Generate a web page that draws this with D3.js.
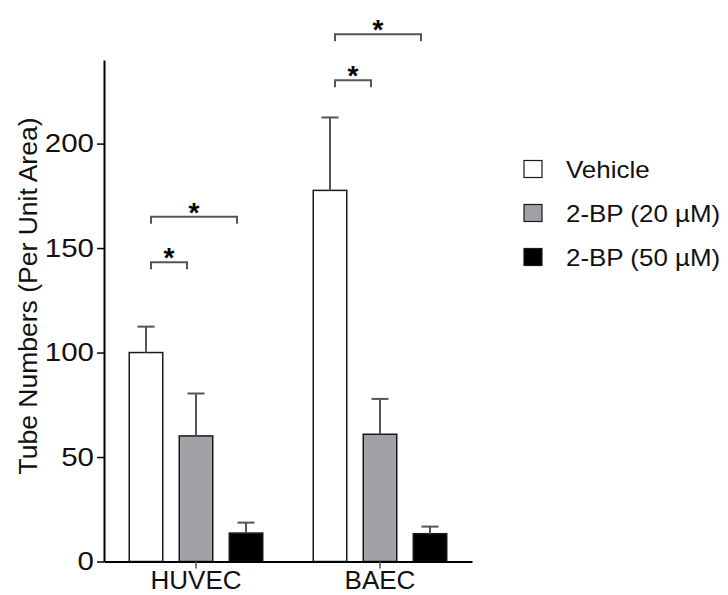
<!DOCTYPE html>
<html>
<head>
<meta charset="utf-8">
<script src="https://cdn.jsdelivr.net/npm/d3@7"></script>
<style>
  html, body { margin: 0; padding: 0; background: #fff; }
  svg { display: block; font-family: "Liberation Sans", Arial, sans-serif; }
</style>
</head>
<body>
<svg id="chart" width="728" height="595"></svg>
<script>
// ---- data ----
const categories = ["HUVEC", "BAEC"];
const seriesNames = ["Vehicle", "2-BP (20 µM)", "2-BP (50 µM)"];
const vehicleMean = [100, 177.6];
const bp20Mean = [60.1, 60.9];
const bp50Mean = [13.6, 13.3];
const vehicleErr = [12.4, 34.9];
const bp20Err = [20.3, 16.9];
const bp50Err = [5.0, 3.4];
const yTicks = [0, 50, 100, 150, 200];
// significance brackets
const sigGroup = ["HUVEC", "HUVEC", "BAEC", "BAEC"];
const sigFrom = ["Vehicle", "Vehicle", "Vehicle", "Vehicle"];
const sigTo = ["2-BP (20 µM)", "2-BP (50 µM)", "2-BP (20 µM)", "2-BP (50 µM)"];
const sigLevel = [143.2, 165, 230.3, 252.3];
const sigLabel = ["*", "*", "*", "*"];

// ---- styles ----
const seriesFill = ["#ffffff", "#a1a1a5", "#000000"];
const barStroke = "#1a1a1a";
const errColor = "#555555";

function stretch(sel, factor) {
  sel.each(function () {
    const w = this.getComputedTextLength();
    d3.select(this).attr("textLength", w * factor).attr("lengthAdjust", "spacingAndGlyphs");
  });
}

const means = [vehicleMean, bp20Mean, bp50Mean];
const errs = [vehicleErr, bp20Err, bp50Err];
const rows = [];
categories.forEach((c, ci) => {
  seriesNames.forEach((s, si) => {
    rows.push({ cat: c, series: s, si, mean: means[si][ci], err: errs[si][ci] });
  });
});

const svg = d3.select("#chart");

const y = d3.scaleLinear().domain([0, 240]).range([561.5, 60]);
const x0 = d3.scaleBand().domain(categories).range([104, 472]).padding(0);
const x1 = d3.scaleBand().domain(seriesNames).range([17, 167])
  .paddingInner(0.33).paddingOuter(0.165);

// bars
const g = svg.append("g");
g.selectAll("rect.bar").data(rows).join("rect")
  .attr("class", "bar")
  .attr("x", d => x0(d.cat) + x1(d.series))
  .attr("y", d => y(d.mean))
  .attr("width", x1.bandwidth())
  .attr("height", d => y(0) - y(d.mean))
  .attr("fill", d => seriesFill[d.si])
  .attr("stroke", barStroke)
  .attr("stroke-width", 1.5);

// error bars (upper only)
const capW = 17;
const eb = g.selectAll("g.err").data(rows).join("g").attr("class", "err");
eb.append("line")
  .attr("x1", d => x0(d.cat) + x1(d.series) + x1.bandwidth() / 2)
  .attr("x2", d => x0(d.cat) + x1(d.series) + x1.bandwidth() / 2)
  .attr("y1", d => y(d.mean))
  .attr("y2", d => y(d.mean + d.err))
  .attr("stroke", errColor).attr("stroke-width", 2);
eb.append("line")
  .attr("x1", d => x0(d.cat) + x1(d.series) + x1.bandwidth() / 2 - capW / 2)
  .attr("x2", d => x0(d.cat) + x1(d.series) + x1.bandwidth() / 2 + capW / 2)
  .attr("y1", d => y(d.mean + d.err))
  .attr("y2", d => y(d.mean + d.err))
  .attr("stroke", errColor).attr("stroke-width", 2);

// axes
const yAxis = d3.axisLeft(y).tickValues(yTicks).tickSize(7).tickSizeOuter(0).tickPadding(3);
const ya = svg.append("g").attr("transform", "translate(104,0)").call(yAxis);
const xAxis = d3.axisBottom(x0).tickSize(7).tickSizeOuter(0).tickPadding(2);
const xa = svg.append("g").attr("transform", `translate(0,${y(0)})`).call(xAxis);
[ya, xa].forEach(a => {
  a.select(".domain").attr("stroke", "#000").attr("stroke-width", 2);
  a.selectAll(".tick line").attr("stroke", "#000").attr("stroke-width", 1.5);
  a.selectAll(".tick text").attr("fill", "#111")
    .style("font-family", '"Liberation Sans", Arial, sans-serif');
});
ya.selectAll(".tick text").style("font-size", "25px");
xa.selectAll(".tick text").style("font-size", "26px");
xa.selectAll(".tick line").attr("stroke", errColor);
stretch(ya.selectAll(".tick text"), 1.18);

// y axis title
const title = svg.append("text")
  .attr("transform", "translate(37,296) rotate(-90)")
  .attr("text-anchor", "middle")
  .attr("fill", "#111")
  .style("font-size", "25px")
  .text("Tube Numbers (Per Unit Area)");
stretch(title, 1.06);

// significance brackets
const legPx = 7;
const insetL = 5, insetR = 9;
sigGroup.forEach((grp, i) => {
  const xa1 = x0(grp) + x1(sigFrom[i]) + x1.bandwidth() / 2 + insetL;
  const xa2 = x0(grp) + x1(sigTo[i]) + x1.bandwidth() / 2 - insetR;
  const yy = y(sigLevel[i]);
  const path = d3.path();
  path.moveTo(xa1, yy + legPx);
  path.lineTo(xa1, yy);
  path.lineTo(xa2, yy);
  path.lineTo(xa2, yy + legPx);
  svg.append("path").attr("d", path.toString())
    .attr("fill", "none").attr("stroke", errColor).attr("stroke-width", 2);
  svg.append("text")
    .attr("x", (xa1 + xa2) / 2)
    .attr("y", yy + 5)
    .attr("text-anchor", "middle")
    .attr("fill", "#000")
    .style("font-size", "28px")
    .style("font-weight", "bold")
    .text(sigLabel[i]);
});

// legend
const legend = svg.append("g").attr("transform", "translate(524,0)");
const legRowY = d3.scalePoint().domain(seriesNames).range([169, 257]);
seriesNames.forEach((s, i) => {
  const cy = legRowY(s);
  legend.append("rect")
    .attr("x", 0).attr("y", cy - 8.5)
    .attr("width", 18).attr("height", 17)
    .attr("fill", seriesFill[i])
    .attr("stroke", barStroke).attr("stroke-width", 1.2);
  const t = legend.append("text")
    .attr("x", 42).attr("y", cy + 9)
    .attr("fill", "#111")
    .style("font-size", "24px")
    .text(s);
  stretch(t, 1.08);
});
</script>
</body>
</html>
